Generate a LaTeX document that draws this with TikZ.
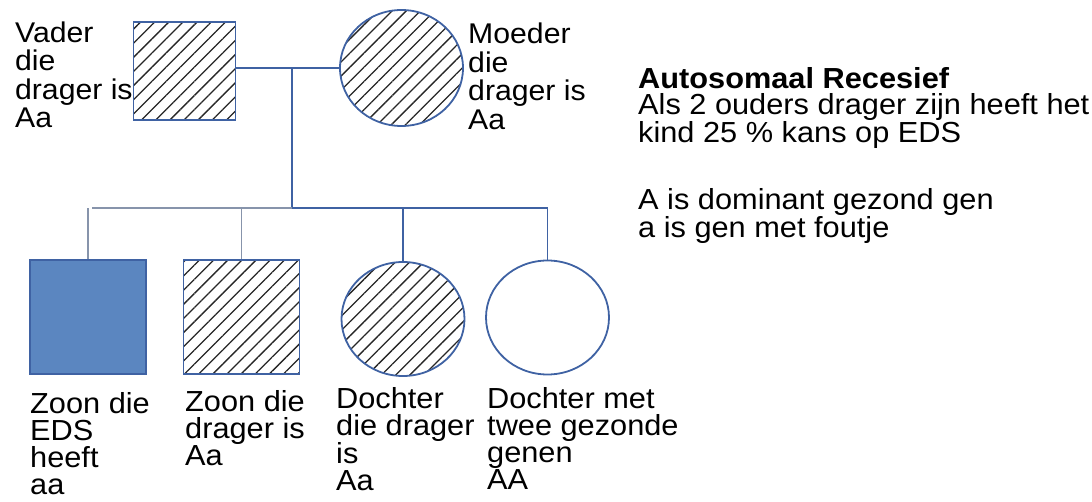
\documentclass[tikz,border=0pt]{standalone}
\usepackage{fontspec}
\setmainfont[FakeStretch=1.06]{Liberation Sans}
\usetikzlibrary{positioning,shapes.geometric,patterns.meta}
\definecolor{lijnblauw}{HTML}{3F62A3}
\definecolor{lijngrijs}{HTML}{8794AB}
\definecolor{vulblauw}{HTML}{5B86C0}
\begin{document}
\begin{tikzpicture}[x=1pt,y=-1pt]
      \tikzstyle{man}=[rectangle,draw=lijnblauw,line width=1.8pt,minimum width=116pt,minimum height=114pt]
      \tikzstyle{vrouw}=[ellipse,draw=lijnblauw,line width=1.8pt,minimum width=123pt,minimum height=114pt]
      \tikzstyle{drager}=[pattern={Lines[angle=45,distance=10pt,line width=1.3pt]},pattern color=black!85]
      \tikzstyle{lijn}=[draw=lijnblauw,line width=1.8pt]
      \tikzstyle{label}=[inner sep=0pt,anchor=north west,align=left,font=\fontsize{28.5}{28.5}\selectfont]
      \useasboundingbox (0,0) rectangle (1092,502);
      % ouders
      \node[man,drager,minimum width=102pt,minimum height=98pt] (vader) at (184.5,71) {};
      \node[vrouw,drager,minimum height=116pt] (moeder) at (401.5,68) {};
      % kinderen
      \node[man,fill=vulblauw] (zoon1) at (88,317) {};
      \node[man,drager] (zoon2) at (241.5,317) {};
      \node[vrouw,drager] (dochter1) at (403,319) {};
      \node[vrouw] (dochter2) at (547.5,317.5) {};
      \coordinate (huwelijk) at (292,68);
      \coordinate (balk) at (292,208);
      \coordinate (balklinks) at (92,208);
      \coordinate (balkrechts) at (dochter2.north |- balk);

      \draw[lijn] (moeder.west) -- (moeder.west -| vader.east);
      \draw[lijn] (huwelijk) -- (balk);
      \draw[lijn,draw=lijngrijs] (balklinks) -- (balk);
      \draw[lijn] (balk) -- (balkrechts);
      \draw[lijn,draw=lijngrijs] (zoon1.north) -- (zoon1.north |- balk);
      \draw[lijn,draw=lijngrijs] (zoon2.north) -- (zoon2.north |- balk);
      \draw[lijn] (dochter1.north) -- (dochter1.north |- balk);
      \draw[lijn] (dochter2.north) -- (balkrechts);

      % teksten
      \node[label,anchor=north east] (vadertekst) at (vader.north west) {Vader\\die\\drager is\\Aa};
      \node[label] (moedertekst) at (468,23) {Moeder\\die\\drager is\\Aa};
      \node[label,font=\fontsize{29}{27}\selectfont] (zoon1tekst) at (30,392) {Zoon die\\EDS\\heeft\\aa};
      \node[label,font=\fontsize{29}{27}\selectfont] (zoon2tekst) at (185,390) {Zoon die\\drager is\\Aa};
      \node[label,font=\fontsize{29}{27}\selectfont] (dochter1tekst) at (336,387) {Dochter\\die drager\\is\\Aa};
      \node[label,font=\fontsize{29}{27}\selectfont] (dochter2tekst) at (487,387) {Dochter met\\twee gezonde\\genen\\AA};
      \node[label,font=\fontsize{29}{26.5}\selectfont] (uitleg) at (638,67)
        {\textbf{Autosomaal Recesief}\\Als 2 ouders drager zijn heeft het\\kind 25 \% kans op EDS\\[39pt]A is dominant gezond gen\\a is gen met foutje};
    \end{tikzpicture}
\end{document}
